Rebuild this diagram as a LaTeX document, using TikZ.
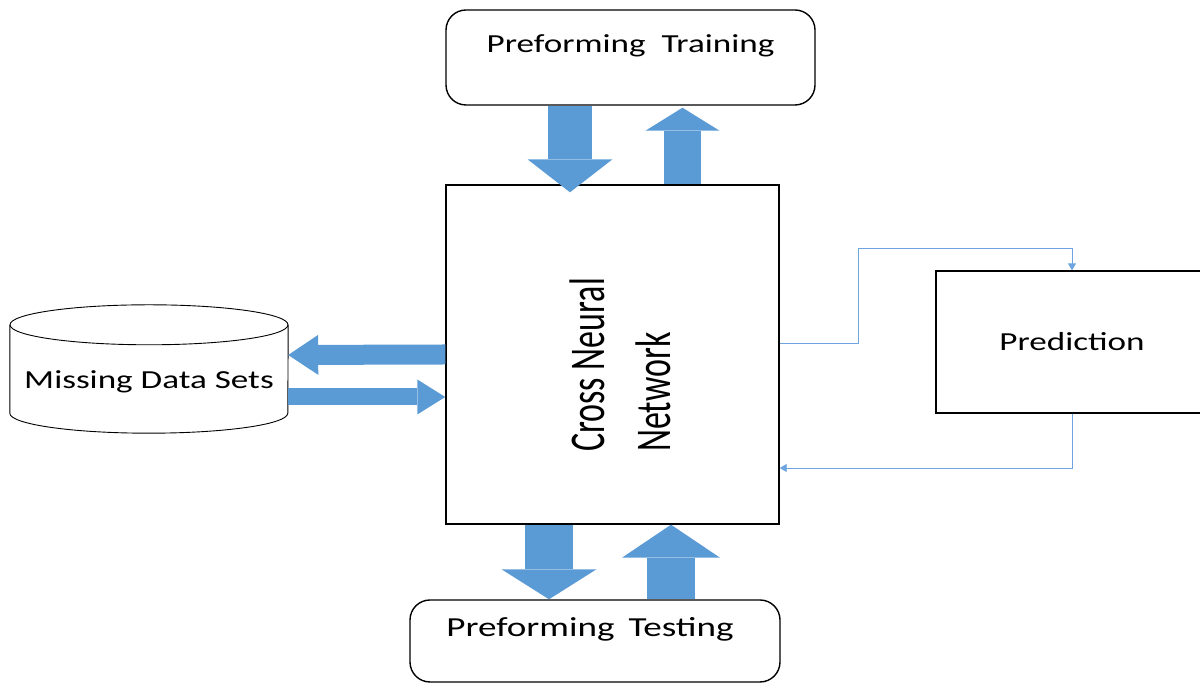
\documentclass[tikz,border=0pt]{standalone}
\usepackage{fontspec}
\setmainfont{Carlito}[FakeStretch=1.35]
\newfontfamily\cnnfont{Carlito}[FakeStretch=0.68]
\usetikzlibrary{arrows.meta}
\definecolor{arrowblue}{RGB}{91,155,213}
\definecolor{linkblue}{RGB}{110,165,222}

\begin{document}
\begin{tikzpicture}[x=1pt,y=1pt,
    box/.style={draw=black,line width=1.4pt,text=black,font=\fontsize{26}{30}\selectfont},
    roundbox/.style={box,rounded corners=20pt,text height=17pt,text depth=27pt},
    blockarrow/.style n args={3}{draw=arrowblue,line width=#1,line cap=butt,
        -{Triangle[length=#3,width=#2,line width=0pt]}},
    link/.style={draw=linkblue,line width=0.9pt,-{Triangle[length=7pt,width=8pt]}}
    ]
    \useasboundingbox (0,0) rectangle (1200,684);

    % Add the boxes
    \node[roundbox,minimum width=369pt,minimum height=95pt] (train) at (630.5,626.5) {Preforming\hspace{16pt}Training};
    \node[box,minimum width=333pt,minimum height=339pt] (cnn) at (612.5,329.5) {};
    \node[rotate=90,align=left,font=\cnnfont\fontsize{50}{66}\selectfont] (cnnlabel) at (620,319) {Cross Neural\\Network};
    \node[roundbox,minimum width=370pt,minimum height=82pt,text depth=26pt,font=\fontsize{27.5}{32}\selectfont] (test) at (595,43) {Preforming\hspace{14pt}Testing\hbox to 10pt{}};
    \node[box,line width=1.2pt,minimum width=272pt,minimum height=142pt,text height=17pt,text depth=0pt] (pred) at (1072,342) {Prediction};

    % The data store
    \node[minimum width=278pt,minimum height=128pt,text height=39pt,text depth=0pt,font=\fontsize{26}{30}\selectfont] (data) at (149,315) {Missing Data Sets};
    \draw[line width=0.9pt] ([yshift=-20pt]data.north west) -- ([yshift=20pt]data.south west)
        arc[start angle=180,end angle=360,x radius=139pt,y radius=20pt] -- ([yshift=-20pt]data.north east);
    \draw[line width=0.9pt] ([yshift=-20pt]data.north) ellipse[x radius=139pt,y radius=20pt];

    % Connect the boxes with block arrows
    \draw[blockarrow={44pt}{85pt}{33pt}] ([xshift=-60.5pt]train.south) -- ([xshift=-42.5pt,yshift=-8pt]cnn.north);
    \draw[blockarrow={37pt}{74pt}{23pt}] ([xshift=70pt]cnn.north) -- ([xshift=52pt,yshift=-2pt]train.south);
    \draw[blockarrow={20pt}{40pt}{30pt}] (cnn.west) -- ([yshift=14pt]data.east);
    \draw[blockarrow={17pt}{35pt}{28pt}] ([yshift=-28pt]data.east) -- ([yshift=-42.5pt]cnn.west);
    \draw[blockarrow={48pt}{95pt}{30pt}] ([xshift=-63.5pt]cnn.south) -- ([xshift=-46pt]test.north);
    \draw[blockarrow={48pt}{98pt}{33pt}] ([xshift=76pt]test.north) -- ([xshift=58.5pt]cnn.south);

    % Thin links to the prediction
    \coordinate (bend) at (858,436);
    \draw[link] ([yshift=11.5pt]cnn.east) -| (bend) -| (pred.north);
    \draw[link] (pred.south) |- ([yshift=-113.5pt]cnn.east);
\end{tikzpicture}
\end{document}
